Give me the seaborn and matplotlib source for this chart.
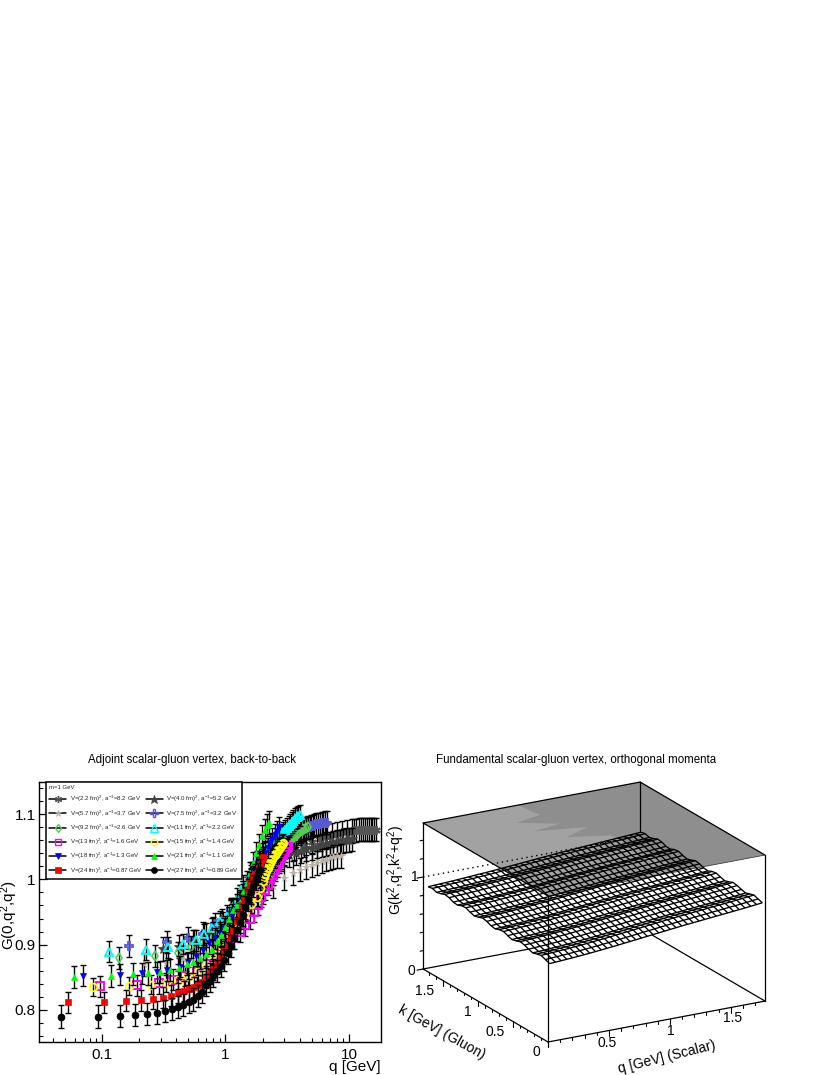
import numpy as np
import pandas as pd
import matplotlib
matplotlib.use("Agg")
import matplotlib.pyplot as plt
import seaborn as sns
from matplotlib.lines import Line2D
from matplotlib.ticker import FixedLocator, NullFormatter, LogLocator
from mpl_toolkits.mplot3d import proj3d
from mpl_toolkits.mplot3d.art3d import Poly3DCollection

W, H = 830, 1075

# ---- left panel data: (q [GeV], G)
pts_22 = [(.56,.905),(.8,.925),(1.1,.95),(1.5,.985),(2,1.02),(2.5,1.035),(3,1.04),(3.6,1.047),(4.3,1.052),(5,1.057),(5.8,1.062),(6.5,1.065),(7.3,1.068),(8,1.07),(8.8,1.072),(9.6,1.073),(10.5,1.074),(11,1.075),(11.5,1.075),(12,1.076),(12.5,1.076),(13,1.076),(13.5,1.076),(14,1.076),(14.5,1.076),(15,1.076),(15.5,1.076),(16,1.076),(16.6,1.076)]
pts_40 = [(.31,.893),(.42,.897),(.55,.905),(.7,.915),(.9,.93),(1.1,.95),(1.4,.98),(1.8,1.01),(2.3,1.025),(2.8,1.03),(3.3,1.037),(3.7,1.04),(4.1,1.043),(4.5,1.046),(5,1.048),(5.5,1.05),(6,1.052),(6.5,1.054),(7,1.055),(7.5,1.056),(8,1.057),(8.5,1.058),(9,1.059),(9.5,1.06),(10,1.06),(10.6,1.061)]
pts_57 = [(.22,.87),(.33,.872),(.45,.878),(.6,.885),(.8,.90),(1.0,.918),(1.3,.945),(1.6,.965),(2.0,.98),(2.42,.99),(3,1.002),(3.5,1.01),(4,1.015),(4.5,1.019),(5,1.022),(5.5,1.025),(6,1.028),(6.5,1.03),(7,1.032),(7.5,1.034),(8,1.035),(8.6,1.036)]
pts_75 = [(.1665,.898),(.334,.9036),(.5,.9097),(.66,.917),(.82,.9316),(.93,.938),(1.1,.955),(1.3,.975),(1.6,1.0),(2,1.03),(2.5,1.048),(3,1.06),(3.5,1.065),(4,1.073),(4.25,1.075),(4.5,1.078),(4.65,1.079),(4.8,1.08),(4.95,1.081),(5.1,1.082),(5.25,1.083),(5.4,1.084),(5.6,1.085),(5.8,1.085),(6,1.086),(6.2,1.086),(6.4,1.087),(6.6,1.087)]
pts_92 = [(.1365,.879),(.2705,.883),(.41,.8878),(.53,.897),(.66,.904),(.8,.917),(.95,.933),(1.1,.953),(1.3,.975),(1.6,1.005),(2,1.03),(2.5,1.045),(3,1.052),(3.1,1.055),(3.2,1.057),(3.3,1.059),(3.4,1.06),(3.5,1.063),(3.6,1.065),(3.72,1.067),(3.85,1.07),(3.97,1.072),(4.1,1.074),(4.22,1.076),(4.35,1.077),(4.5,1.079),(4.65,1.08)]
pts_11 = [(.1139,.889),(.2268,.892),(.34,.896),(.4535,.901),(.574,.907),(.67,.916),(.782,.925),(.90,.936),(1.02,.944),(1.12,.956),(1.25,.97),(1.4,.99),(1.6,1.01),(1.8,1.028),(2.0,1.04),(2.2,1.048),(2.4,1.053),(2.6,1.058),(2.77,1.065),(2.86,1.069),(2.95,1.072),(3.05,1.075),(3.15,1.078),(3.25,1.081),(3.35,1.084),(3.45,1.087),(3.55,1.09),(3.68,1.093),(3.8,1.095),(3.9,1.097),(4.0,1.098)]
pts_13 = [(.0963,.836),(.1908,.838),(.287,.841),(.378,.846),(.4735,.852),(.583,.8587),(.7,.87),(.85,.885),(1,.9),(1.15,.91),(1.3,.92),(1.45,.93),(1.58,.94),(1.7,.95),(1.82,.961),(1.95,.973),(2.09,.984),(2.2,.992),(2.31,1.0),(2.42,1.007),(2.53,1.014),(2.62,1.02),(2.72,1.026),(2.82,1.032),(2.92,1.037),(3.02,1.042),(3.13,1.048),(3.2,1.05)]
pts_15 = [(.084,.835),(.1665,.837),(.251,.839),(.332,.842),(.416,.846),(.5,.852),(.59,.8577),(.70,.869),(.8,.885),(.9,.9),(1,.91),(1.15,.925),(1.3,.938),(1.45,.95),(1.6,.962),(1.79,.973),(1.9,.986),(2.0,.998),(2.05,1.003),(2.1,1.008),(2.15,1.013),(2.2,1.018),(2.25,1.022),(2.29,1.025),(2.34,1.028),(2.39,1.031),(2.44,1.034),(2.5,1.037),(2.55,1.04),(2.6,1.042),(2.65,1.045),(2.7,1.047),(2.75,1.049),(2.8,1.051),(2.86,1.054),(2.93,1.056)]
pts_18 = [(.0707,.8526),(.1399,.854),(.2097,.856),(.277,.8575),(.334,.861),(.428,.866),(.5,.873),(.58,.883),(.66,.892),(.74,.902),(.82,.91),(.9,.918),(.98,.925),(1.06,.935),(1.14,.946),(1.22,.955),(1.3,.965),(1.4,.977),(1.5,.99),(1.6,1.0),(1.7,1.01),(1.8,1.02),(1.9,1.027),(2.0,1.034),(2.1,1.041),(2.2,1.048),(2.3,1.055),(2.4,1.062),(2.5,1.068),(2.6,1.074),(2.7,1.08)]
pts_21 = [(.0597,.851),(.119,.8526),(.178,.8546),(.236,.856),(.295,.8587),(.356,.861),(.42,.865),(.485,.870),(.55,.874),(.622,.879),(.695,.885),(.782,.892),(.85,.905),(.92,.915),(1.0,.927),(1.07,.94),(1.15,.953),(1.23,.96),(1.31,.966),(1.4,.98),(1.49,.995),(1.58,1.01),(1.68,1.025),(1.78,1.04),(1.88,1.053),(1.98,1.066),(2.08,1.076),(2.18,1.083),(2.25,1.087)]
pts_24 = [(.0527,.812),(.1045,.812),(.1564,.814),(.208,.815),(.2606,.817),(.3098,.819),(.362,.822),(.41,.826),(.458,.829),(.506,.832),(.555,.835),(.6,.838),(.65,.843),(.70,.849),(.75,.856),(.80,.862),(.86,.871),(.92,.88),(.98,.89),(1.04,.90),(1.10,.912),(1.16,.923),(1.23,.936),(1.3,.948),(1.37,.96),(1.44,.972),(1.51,.984),(1.58,.995),(1.66,1.005),(1.74,1.008),(1.82,1.012),(1.88,1.018),(1.92,1.024),(1.97,1.03),(2.0,1.034)]
pts_27 = [(.0466,.79),(.0923,.79),(.139,.791),(.184,.792),(.230,.794),(.277,.796),(.322,.798),(.366,.802),(.410,.805),(.456,.808),(.504,.812),(.55,.816),(.60,.822),(.65,.828),(.70,.838),(.75,.845),(.8,.852),(.86,.86),(.92,.868),(.98,.877),(1.04,.887),(1.10,.898),(1.17,.91),(1.24,.922),(1.31,.935),(1.38,.946),(1.45,.957),(1.52,.968),(1.6,.98),(1.68,.99),(1.76,1.0),(1.84,1.008),(1.92,1.014)]

labels = ["V=(2.2 fm)$^{2}$, a$^{-1}$=8.2 GeV", "V=(4.0 fm)$^{2}$, a$^{-1}$=5.2 GeV",
          "V=(5.7 fm)$^{2}$, a$^{-1}$=3.7 GeV", "V=(7.5 fm)$^{2}$, a$^{-1}$=3.2 GeV",
          "V=(9.2 fm)$^{2}$, a$^{-1}$=2.6 GeV", "V=(11 fm)$^{2}$, a$^{-1}$=2.2 GeV",
          "V=(13 fm)$^{2}$, a$^{-1}$=1.6 GeV", "V=(15 fm)$^{2}$, a$^{-1}$=1.4 GeV",
          "V=(18 fm)$^{2}$, a$^{-1}$=1.3 GeV", "V=(21 fm)$^{2}$, a$^{-1}$=1.1 GeV",
          "V=(24 fm)$^{2}$, a$^{-1}$=0.87 GeV", "V=(27 fm)$^{2}$, a$^{-1}$=0.89 GeV"]
series = [pts_22, pts_40, pts_57, pts_75, pts_92, pts_11, pts_13, pts_15, pts_18, pts_21, pts_24, pts_27]
errors = [.018, .018, .018, .017, .017, .016, .016, .014, .016, .017, .016, .017]
# marker, size, face, edge, edge width
styles = [((6, 2, 0), 6.0, "none", "#555555", 1.6),
          ("*", 7.5, "#444444", "#444444", .6),
          ("*", 5.5, "#b8b0a2", "#b8b0a2", .5),
          ("P", 6.0, "none", "#5a5ad6", 1.3),
          ("d", 5.0, "none", "#55cc55", 1.2),
          ("^", 6.0, "none", "#00ffff", 1.4),
          ("s", 5.5, "none", "#ff00ff", 1.4),
          ("o", 5.5, "none", "#ffff00", 1.3),
          ("v", 5.0, "#0000ff", "#0000ff", .5),
          ("^", 5.0, "#00ff00", "#00ff00", .5),
          ("s", 5.0, "#ff0000", "#ff0000", .5),
          ("o", 5.0, "#000000", "#000000", .5)]

# ---- right panel data
q_front = [.830,.834,.838,.842,.846,.851,.856,.861,.867,.873,.879,.885,.892,.899,.906,.913,.920,.927,.934,.941,
           .948,.955,.962,.969,.975,.981,.987,.993,.999,1.005,1.011,1.017,1.023,1.029,1.035,1.042,1.049,1.056]
k_tilt = [.060,.059,.058,.057,.056,.055,.054,.053,.051,.049,.047,.045,.043,.041,.039,.037,.035,.033,.031,.029,
          .027,.025,.023,.021,.019,.017,.015,.013,.011,.009,.007,.005,.003,.001,-.001,-.004,-.007,-.010]
k_ripple = [0,.016,.032,.018,.002,.014,.030,.038,.018,.004,.018,.034,.026,.006,.012,.030,.038,.018,.004,.016,
            .034,.028,.006,.010,.030,.036,.016,.002,.016,.006]
q_range = (0.03, 1.775)
k_range = (0.03, 1.76)
edge_q = [.783, .788, .813, .584, .842, .596, .975, .742, 1.029, 1.07, 1.10]
edge_k = [1.78, 1.671, 1.525, 1.46, 1.29, 1.242, 1.134, 1.02, .902, .70, 0.0]
QMAX, KMAX, ZMAX = 1.78, 1.78, 1.587

sns.set_theme(style="white")
plt.rcParams.update({"font.family": ["Liberation Sans", "DejaVu Sans"], "mathtext.default": "regular",
                     "axes.edgecolor": "black", "axes.linewidth": 1.0})

fig = plt.figure(figsize=(W / 100, H / 100), dpi=100)
def fx(x): return x / W
def fy(y): return 1 - y / H

# ---------- left
ax = fig.add_axes([fx(38.5), fy(1042), 342.5 / W, 260 / H])
ax.set_xscale("log")
handles = {}
for i, (pts, lab, err, st) in enumerate(zip(series, labels, errors, styles)):
    df = pd.DataFrame(pts, columns=["q", "G"])
    m, ms, fc, ec, mew = st
    ax.errorbar(df["q"], df["G"], yerr=err, fmt="none", ecolor="black", elinewidth=1.0,
                capsize=2.0, capthick=1.0, zorder=3 + i)
    sns.lineplot(data=df, x="q", y="G", ax=ax, linestyle="none", marker=m, markersize=ms,
                 markerfacecolor=fc, markeredgecolor=ec, markeredgewidth=mew, color=ec,
                 estimator=None, sort=False, errorbar=None, legend=False, zorder=3.5 + i)
    handles[lab] = Line2D([], [], color="black", lw=1.1, marker=m, markersize=ms * .85, markerfacecolor=fc,
                          markeredgecolor=ec, markeredgewidth=min(mew, 1.0))
ax.set_xlim(0.0306, 18.2)
ax.set_ylim(0.751, 1.149)
ax.set_xticks([.1, 1, 10])
ax.set_xticklabels(["0.1", "1", "10"])
ax.xaxis.set_minor_locator(LogLocator(base=10, subs=np.arange(2, 10) / 10, numticks=12))
ax.xaxis.set_minor_formatter(NullFormatter())
ax.set_yticks([.8, .9, 1.0, 1.1])
ax.set_yticklabels(["0.8", "0.9", "1", "1.1"])
ax.yaxis.set_minor_locator(FixedLocator(np.arange(.76, 1.15, .02)))
ax.tick_params(axis="both", which="major", direction="in", length=6, width=.9, labelsize=11, color="black",
               labelcolor="black", bottom=True, left=True, top=False, right=False)
ax.tick_params(axis="both", which="minor", direction="in", length=3.2, width=.8, color="black",
               bottom=True, left=True, top=False, right=False)
ax.tick_params(axis="x", pad=4)
ax.tick_params(axis="y", pad=2)
ax.set_xlabel("")
ax.set_ylabel("")
order = labels[0::2] + labels[1::2]
leg = ax.legend([handles[l] for l in order], order, ncol=2, loc="upper left",
                bbox_to_anchor=((46 - 38.5) / 342.5, 1.0), borderaxespad=0, fontsize=4.4,
                title="m=1 GeV", title_fontsize=4.3, alignment="left", frameon=True, fancybox=False,
                framealpha=1, edgecolor="black", facecolor="white", labelspacing=.65, handlelength=2.8,
                handletextpad=.55, columnspacing=.5, borderpad=.5)
leg.set_zorder(50)
leg.get_frame().set_linewidth(1.1)
fig.text(fx(192), fy(760), "Adjoint scalar-gluon vertex, back-to-back", ha="center", va="center", fontsize=8.3, color="black")
fig.text(fx(381), fy(1067), "q [GeV]", ha="right", va="center", fontsize=11, color="black")
fig.text(fx(9), fy(915), "G(0,q$^{2}$,q$^{2}$)", ha="center", va="center", rotation=90, fontsize=11, color="black")

# ---------- right
az = fig.add_axes([.35, .0, .8, .8 * W / H], projection="3d", computed_zorder=False)
az.set_proj_type("ortho")
az.set_box_aspect((249.6, 252.8, 154.8))
az.view_init(elev=19.4, azim=-119.6)
az.set_xlim(0, QMAX); az.set_ylim(0, KMAX); az.set_zlim(0, ZMAX)
az.set_axis_off()
az.patch.set_alpha(0)

def disp(a, x, y, z):
    xx, yy, _ = proj3d.proj_transform(x, y, z, a.get_proj())
    return a.transData.transform((xx, yy))

fig.canvas.draw()
p0, p1 = disp(az, 0, 0, 0), disp(az, QMAX, 0, 0)
scale = 217.0 / (p1[0] - p0[0])
pos = az.get_position(original=True)
az.set_position([pos.x0, pos.y0, pos.width * scale, pos.height * scale])
fig.canvas.draw()
p0 = disp(az, 0, 0, 0)
pos = az.get_position(original=True)
az.set_position([pos.x0 + (548 - p0[0]) / W, pos.y0 + ((H - 1042) - p0[1]) / H, pos.width, pos.height])
fig.canvas.draw()

Q = np.linspace(q_range[0], q_range[1], len(q_front))
K = np.linspace(k_range[0], k_range[1], len(k_ripple))
Qg, Kg = np.meshgrid(Q, K, indexing="ij")
Z = np.array(q_front)[:, None] + np.array(k_ripple)[None, :] + np.array(k_tilt)[:, None] * (K / K.max())[None, :]

def seg(a, b, z=3, **kw):
    kw.setdefault("color", "black"); kw.setdefault("lw", .9)
    az.plot([a[0], b[0]], [a[1], b[1]], [a[2], b[2]], zorder=z, **kw)

# floor
seg((0, KMAX, 0), (QMAX, KMAX, 0), 1)
seg((QMAX, 0, 0), (QMAX, KMAX, 0), 1)
seg((0, 0, 0), (0, KMAX, 0), 1)
seg((0, 0, 0), (QMAX, 0, 0), 1)
# hidden-line mask
az.plot_surface(Qg, Kg, Z, color="white", shade=False, linewidth=0, antialiased=False, rstride=1, cstride=1, zorder=2)
# ceiling
cq = [0, QMAX, QMAX, 0]; ck = [0, 0, KMAX, KMAX]
az.add_collection3d(Poly3DCollection([list(zip(cq, ck, [ZMAX] * 4))], facecolor="#a2a2a2", edgecolor="none", zorder=3))
dq = edge_q + [QMAX, QMAX]; dk = edge_k + [0.0, KMAX]
az.add_collection3d(Poly3DCollection([list(zip(dq, dk, [ZMAX] * len(dq)))], facecolor="#8e8e8e", edgecolor="none", zorder=3.1))
seg((0, KMAX, ZMAX), (QMAX, KMAX, ZMAX), 4)
seg((QMAX, 0, ZMAX), (QMAX, KMAX, ZMAX), 4)
seg((0, KMAX, ZMAX), (0, 0, ZMAX), 4, lw=.9)
seg((0, 0, ZMAX), (QMAX, 0, ZMAX), 4, lw=.6, color="#444444")
# walls
seg((0, KMAX, 0), (0, KMAX, ZMAX), 4)
seg((QMAX, KMAX, Z[-1, -1]), (QMAX, KMAX, ZMAX), 4)
seg((QMAX, 0, 0), (QMAX, 0, ZMAX), 4)
seg((0, KMAX, 1), (QMAX, KMAX, 1), 4, ls=(0, (1, 2.6)), lw=1.0)
# surface mesh
az.plot_wireframe(Qg, Kg, Z, rstride=1, cstride=1, color="black", linewidth=.95, zorder=6)
seg((0, 0, 0), (0, 0, ZMAX), 7)

# ticks
zdrop_major, zdrop_minor = .055, .028
for v in np.arange(0, 1.7501, .1):
    d = zdrop_major if abs(v / .5 - round(v / .5)) < 1e-6 else zdrop_minor
    seg((v, 0, 0), (v, 0, -d), 7, lw=.8)
    seg((0, v, 0), (0, v, -d), 7, lw=.8)
for v in np.arange(0, 1.5801, .2):
    major = abs(v - round(v)) < 1e-6
    seg((0, KMAX, v), (-.05 if major else -.025, KMAX, v), 7, lw=.8)

txt = dict(ha="center", va="center", color="black", fontsize=10)
for s, x, y in [("1", 415, 877), ("0", 411.5, 971), ("1.5", 425, 991), ("1", 468, 1012), ("0.5", 495, 1032),
                ("0", 536, 1052), ("0.5", 607, 1043), ("1", 671, 1031), ("1.5", 733, 1018)]:
    fig.text(fx(x), fy(y), s, **txt)
fig.text(fx(576), fy(760), "Fundamental scalar-gluon vertex, orthogonal momenta", ha="center", va="center", fontsize=8.3, color="black")
fig.text(fx(396), fy(870), "G(k$^{2}$,q$^{2}$,k$^{2}$+q$^{2}$)", rotation=90, ha="center", va="center", fontsize=10, color="black")
fig.text(fx(442), fy(1032), "k [GeV] (Gluon)", rotation=-29, rotation_mode="anchor", ha="center", va="center", fontsize=10, color="black")
fig.text(fx(667), fy(1057), "q [GeV] (Scalar)", rotation=14, rotation_mode="anchor", ha="center", va="center", fontsize=10, color="black")

fig.savefig("out.png", dpi=100)
